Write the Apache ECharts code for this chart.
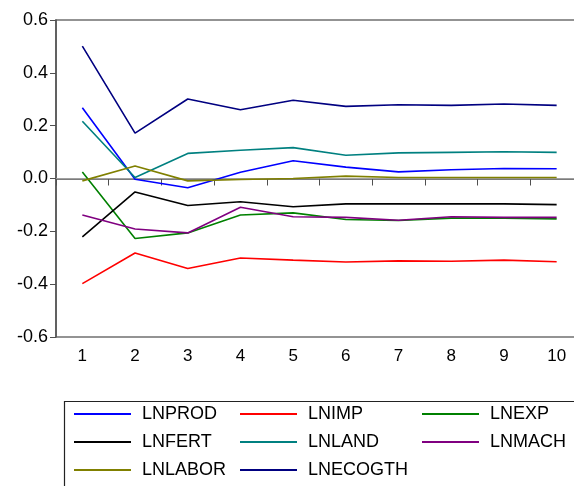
<!DOCTYPE html>
<html>
<head>
<meta charset="utf-8">
<script src="https://cdn.jsdelivr.net/npm/echarts@6/dist/echarts.min.js"></script>
<style>
html,body{margin:0;padding:0;background:#fff;overflow:hidden;width:574px;height:486px;}
#chart{width:586px;height:486px;}
</style>
</head>
<body>
<div id="chart"></div>
<script>
var categories = ['1','2','3','4','5','6','7','8','9','10'];
var yTicks = [-0.6, -0.4, -0.2, 0.0, 0.2, 0.4, 0.6];

var lnprod   = [0.268, -0.003, -0.035, 0.024, 0.067, 0.043, 0.025, 0.033, 0.038, 0.037];
var lnimp    = [-0.398, -0.282, -0.341, -0.301, -0.309, -0.316, -0.312, -0.313, -0.309, -0.315];
var lnexp    = [0.025, -0.227, -0.206, -0.138, -0.130, -0.155, -0.159, -0.150, -0.150, -0.153];
var lnfert   = [-0.221, -0.051, -0.102, -0.088, -0.107, -0.096, -0.096, -0.096, -0.096, -0.099];
var lnland   = [0.217, 0.004, 0.095, 0.107, 0.117, 0.088, 0.097, 0.099, 0.101, 0.099];
var lnmach   = [-0.138, -0.191, -0.206, -0.109, -0.145, -0.147, -0.158, -0.145, -0.147, -0.147];
var lnlabor  = [-0.009, 0.047, -0.009, -0.004, 0.000, 0.009, 0.004, 0.004, 0.004, 0.004];
var lnecogth = [0.501, 0.172, 0.301, 0.260, 0.296, 0.273, 0.279, 0.277, 0.282, 0.277];

var seriesNames  = ['LNPROD','LNIMP','LNEXP','LNFERT','LNLAND','LNMACH','LNLABOR','LNECOGTH'];
var seriesData   = [lnprod, lnimp, lnexp, lnfert, lnland, lnmach, lnlabor, lnecogth];
var seriesColors = ['#0000ff','#ff0000','#008000','#000000','#008080','#800080','#808000','#000080'];

var font = 'Arial, "Liberation Sans", sans-serif';

var series = [{
  name: 'zero',
  type: 'line',
  data: [],
  silent: true,
  z: 1,
  markLine: {
    silent: true,
    z: 1,
    symbol: 'none',
    label: {show: false},
    lineStyle: {color: '#a0a0a0', width: 1, type: 'solid'},
    data: [{yAxis: 0}]
  }
}];
seriesNames.forEach(function(n, i){
  series.push({
    name: n,
    type: 'line',
    data: seriesData[i],
    symbol: 'none',
    showSymbol: false,
    z: 3,
    color: seriesColors[i],
    lineStyle: {color: seriesColors[i], width: 1.6},
    animation: false
  });
});

function legendCol(left, names){
  return {
    orient: 'vertical',
    left: left,
    top: 405,
    padding: 0,
    itemWidth: 57,
    itemHeight: 2,
    itemGap: 10,
    icon: 'rect',
    selectedMode: false,
    data: names,
    textStyle: {fontSize: 18, fontFamily: font, color: '#000', lineHeight: 17, padding: [0,0,0,6]}
  };
}

var chart = echarts.init(document.getElementById('chart'), null, {renderer: 'canvas'});
chart.setOption({
  animation: false,
  backgroundColor: '#fff',
  grid: {
    left: 56, top: 20, right: 3, bottom: 149,
    show: true, borderColor: '#707070', borderWidth: 1.5, backgroundColor: 'transparent'
  },
  xAxis: {
    type: 'category',
    data: categories,
    boundaryGap: true,
    axisLine: {lineStyle: {color: '#505050', width: 1.5}},
    axisTick: {show: true, inside: false, length: 7, lineStyle: {color: '#505050'}},
    axisLabel: {fontSize: 17, fontFamily: font, color: '#000', margin: 11},
    splitLine: {show: false}
  },
  yAxis: {
    type: 'value',
    min: yTicks[0], max: yTicks[yTicks.length-1], interval: 0.2,
    axisLine: {show: true, lineStyle: {color: '#505050', width: 1.5}},
    axisTick: {show: true, inside: false, length: 6, lineStyle: {color: '#505050'}},
    axisLabel: {fontSize: 18, fontFamily: font, color: '#000', margin: 8,
      formatter: function(v){ return v.toFixed(1); }},
    splitLine: {show: false}
  },
  legend: [
    legendCol(74, ['LNPROD','LNFERT','LNLABOR']),
    legendCol(240, ['LNIMP','LNLAND','LNECOGTH']),
    legendCol(422, ['LNEXP','LNMACH'])
  ],
  graphic: [{
    type: 'rect',
    left: 62, top: 399,
    shape: {x: 0, y: 0, width: 600, height: 200},
    style: {fill: 'none', stroke: '#222', lineWidth: 1.2},
    silent: true
  }],
  series: series
});
</script>
</body>
</html>
